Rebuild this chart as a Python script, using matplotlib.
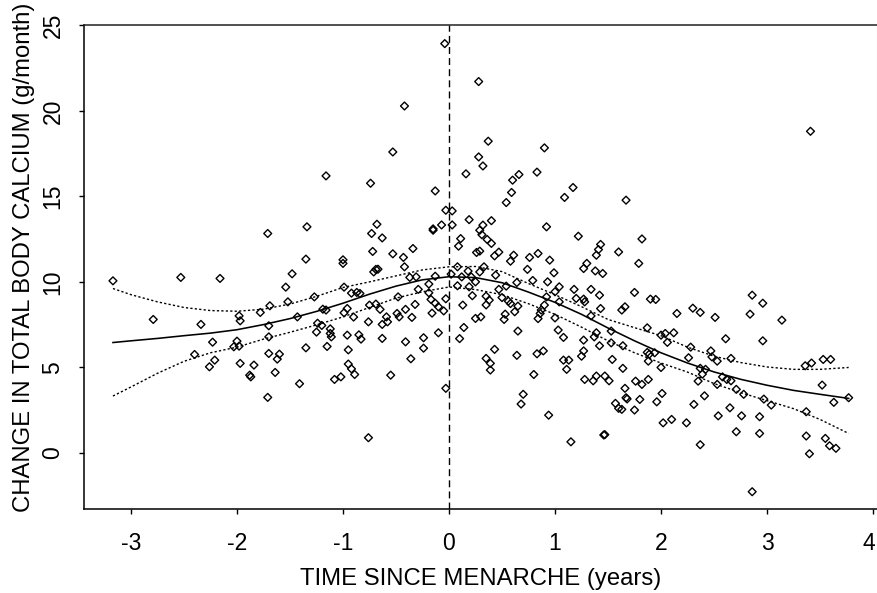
import matplotlib
matplotlib.use("Agg")
import matplotlib.pyplot as plt
from matplotlib.transforms import ScaledTranslation

plt.rcParams['font.family'] = ['Liberation Sans', 'DejaVu Sans']
plt.rcParams['axes.unicode_minus'] = False

# Individual observations: years since menarche vs. calcium accretion (g/month)
time_since_menarche = [
    -3.17, -2.79, -2.53, -2.34, -2.16, -2.23, -2.40, -2.21, -2.26, -1.98,
    -1.97, -1.78, -1.69, -1.70, -1.70, -2.00, -2.03, -1.98, -1.70, -1.60,
    -1.62, -1.97, -1.84, -1.88, -1.87, -1.64, -1.71, -1.71,
    -0.53, -1.16, -0.74, -0.13, -0.03, 0.03, -0.07, 0.03, -0.15, -0.15,
    -1.34, -0.68, -0.73, -0.63, -1.35, -1.00, -1.00, -0.72, -0.53, -0.34,
    -0.43, -0.42, -0.71, -0.69, -0.67, -1.48, -1.54, -1.52, -1.27, -0.99,
    -0.92, -0.87, -0.84, -0.48, -0.37, -0.31, -0.13, -0.19, -0.29, -0.19,
    -0.17, -0.13, -0.10, -0.03, -0.05, -0.16, -1.43, -1.19, -1.16, -0.99,
    -0.96, -0.90, -0.75, -0.69, -0.65, -0.76, -0.59, -0.58, -0.63, -0.49,
    -0.47, -0.41, -0.35, -0.32, -1.24, -1.20, -1.25, -1.12, -1.12, -1.11,
    -0.96, -0.85, -0.83, -0.63, -1.35, -1.15, -0.95, -0.41, -0.24, -0.24,
    -0.10, -0.36, -0.95, -0.92, -0.89, -1.02, -1.08, -0.55, -1.41, -0.03,
    -0.76, -0.04, -0.42,
    0.19, 0.32, 0.40, 0.29, 0.31, 0.92, 1.22, 0.11, 0.09, 0.36,
    0.40, 0.26, 0.29, 0.47, 0.43, 0.61, 0.58, 0.76, 0.84, 0.95,
    1.43, 1.41, 1.39, 1.60, 1.30, 1.27, 1.38, 1.45, 0.74, 0.79,
    0.99, 0.08, 0.18, 0.29, 0.33, 0.44, 0.12, 0.21, 0.25, 0.08,
    0.19, 0.02, 0.64, 0.54, 0.47, 0.93, 1.04, 1.00, 1.18, 1.20,
    1.27, 1.28, 1.34, 1.42, 0.22, 0.35, 0.38, 0.35, 0.13, 0.50,
    0.56, 0.58, 0.65, 0.62, 0.53, 0.52, 0.25, 0.30, 1.04, 0.92,
    0.90, 0.87, 0.86, 0.84, 1.00, 1.43, 1.34, 0.14, 0.10, 0.65,
    1.03, 1.08, 1.27, 1.37, 1.39, 1.42, 1.53, 1.53, 0.43, 0.35,
    0.39, 0.39, 0.64, 0.83, 0.89, 1.08, 1.13, 1.11, 1.25, 1.27,
    1.54, 0.80, 1.28, 1.36, 1.39, 1.47, 1.51, 0.70, 0.68, 0.94,
    1.15, 1.46, 1.47, 1.57, 1.60,
    0.28, 0.37, 0.90, 0.28, 0.32, 0.16, 0.83, 0.66, 0.60, 0.59,
    0.54, 1.09, 1.17,
    3.41, 1.67, 1.82, 1.79, 1.75, 1.90, 1.95, 2.86, 2.96,
    1.63, 1.66, 2.15, 2.30, 2.37, 2.51, 2.84, 3.14, 1.87, 1.64,
    2.00, 2.04, 2.12, 2.06, 2.61, 2.96, 2.28, 1.87, 1.89, 1.88,
    1.94, 2.47, 2.48, 2.53, 2.66, 2.26, 1.64, 2.00, 2.37, 2.42,
    2.39, 3.36, 3.42, 3.53, 3.60, 1.76, 1.82, 1.88, 1.66, 2.35,
    2.53, 2.58, 2.62, 2.66, 2.71, 2.78, 3.52, 1.67, 1.68, 1.80,
    1.96, 2.01, 2.97, 3.04, 3.77, 3.63, 3.37, 1.63, 1.75, 2.02,
    2.10, 2.24, 2.31, 2.41, 2.54, 2.65, 2.76, 2.93, 2.71, 2.93,
    2.37, 2.86, 3.37, 3.40, 3.55, 3.59, 3.65,
]

calcium_change = [
    10.06, 7.80, 10.26, 7.51, 10.20, 6.47, 5.75, 5.42, 5.03, 8.01,
    7.72, 8.21, 8.60, 7.43, 6.78, 6.53, 6.20, 6.24, 5.81, 5.77,
    5.48, 5.23, 5.13, 4.54, 4.44, 4.70, 3.24, 12.83,
    17.60, 16.20, 15.77, 15.32, 14.19, 14.15, 13.33, 13.33, 13.10, 13.02,
    13.22, 13.37, 12.83, 12.57, 11.33, 11.29, 11.08, 11.78, 11.64, 11.95,
    11.43, 10.88, 10.58, 10.73, 10.74, 10.47, 9.69, 8.83, 9.12, 9.69,
    9.34, 9.38, 9.32, 9.12, 10.26, 10.29, 10.33, 9.87, 9.56, 9.36,
    8.97, 8.75, 8.54, 9.01, 8.30, 8.17, 7.95, 8.40, 8.35, 8.19,
    8.44, 7.94, 8.64, 8.70, 8.39, 7.66, 7.95, 7.66, 7.51, 8.15,
    7.95, 8.39, 7.92, 8.68, 7.58, 7.45, 7.06, 7.25, 6.98, 6.78,
    6.88, 6.90, 6.65, 6.69, 6.14, 6.22, 6.02, 6.49, 6.73, 6.12,
    7.02, 5.50, 5.19, 4.91, 4.58, 4.44, 4.29, 4.54, 4.04, 3.77,
    0.88, 23.94, 20.29,
    13.64, 13.32, 13.58, 13.02, 12.76, 13.22, 12.67, 12.53, 12.09, 12.48,
    12.25, 11.72, 11.80, 11.74, 11.52, 11.56, 11.21, 11.43, 11.66, 11.27,
    12.19, 11.89, 11.56, 11.75, 11.08, 10.78, 10.64, 10.49, 10.73, 10.08,
    10.53, 10.88, 10.63, 10.58, 10.88, 10.39, 10.29, 10.29, 10.00, 9.77,
    9.71, 10.45, 9.96, 9.75, 9.56, 10.00, 9.71, 9.42, 9.56, 9.03,
    8.99, 8.83, 9.56, 9.22, 9.19, 9.16, 8.93, 8.65, 8.64, 9.08,
    8.87, 8.73, 8.58, 8.25, 8.11, 7.80, 7.86, 7.95, 8.83, 9.12,
    8.64, 8.35, 8.15, 7.85, 7.89, 8.44, 8.01, 7.33, 6.68, 7.12,
    7.18, 6.75, 6.59, 6.78, 7.02, 6.26, 7.12, 6.43, 6.05, 5.52,
    5.23, 4.84, 5.70, 5.79, 5.96, 5.42, 5.42, 4.88, 5.65, 5.96,
    5.46, 4.58, 4.29, 4.21, 4.49, 4.49, 4.21, 3.42, 2.85, 2.20,
    0.64, 1.04, 1.06, 2.89, 2.60,
    21.72, 18.23, 17.84, 17.31, 16.78, 16.32, 16.42, 16.28, 15.95, 15.23,
    14.64, 14.94, 15.52,
    18.81, 14.78, 12.51, 11.08, 9.38, 8.99, 8.97, 9.22, 8.75,
    8.35, 8.54, 8.15, 8.46, 8.21, 7.92, 8.11, 7.76, 7.31, 6.26,
    6.88, 6.98, 7.02, 6.46, 6.67, 6.55, 6.18, 5.87, 5.77, 5.36,
    5.85, 5.96, 5.61, 5.36, 5.52, 5.56, 4.94, 4.99, 4.94, 4.88,
    4.60, 5.09, 5.25, 5.46, 5.46, 4.19, 4.00, 4.29, 3.77, 4.19,
    4.00, 4.44, 4.29, 4.21, 3.71, 3.42, 3.96, 3.22, 3.15, 3.12,
    2.98, 3.47, 3.14, 2.79, 3.22, 2.95, 2.40, 2.54, 2.50, 1.75,
    1.95, 1.75, 2.83, 3.33, 2.16, 2.63, 2.16, 2.11, 1.23, 1.13,
    0.47, -2.28, 0.98, -0.06, 0.84, 0.41, 0.26,
]

# Fitted curve with its confidence band
fit_time = [-3.17, -3.0, -2.75, -2.5, -2.25, -2.0, -1.75, -1.5, -1.25, -1.0,
            -0.75, -0.5, -0.25, 0.0, 0.25, 0.5, 0.75, 1.0, 1.25, 1.5,
            1.75, 2.0, 2.25, 2.5, 2.75, 3.0, 3.25, 3.5, 3.77]
fit_mean = [6.45, 6.55, 6.69, 6.85, 7.00, 7.20, 7.50, 7.85, 8.27, 8.75,
            9.28, 9.75, 10.12, 10.30, 10.25, 9.95, 9.40, 8.80, 8.10, 7.30,
            6.55, 5.85, 5.25, 4.73, 4.30, 3.95, 3.65, 3.42, 3.18]
fit_upper = [9.61, 9.25, 8.83, 8.50, 8.32, 8.28, 8.40, 8.70, 9.15, 9.67,
             10.00, 10.35, 10.70, 10.88, 10.90, 10.60, 9.90, 9.25, 8.55, 7.80,
             7.32, 6.85, 6.18, 5.65, 5.28, 5.02, 4.88, 4.88, 4.99]
fit_lower = [3.32, 3.85, 4.65, 5.35, 5.85, 6.18, 6.65, 7.05, 7.48, 7.95,
             8.50, 9.05, 9.42, 9.70, 9.55, 9.25, 8.72, 8.10, 7.35, 6.55,
             5.85, 5.25, 4.72, 4.05, 3.52, 3.05, 2.58, 1.95, 1.13]

x_ticks = [-3, -2, -1, 0, 1, 2, 3, 4]
y_ticks = [0, 5, 10, 15, 20, 25]

fig = plt.figure(figsize=(8.77, 5.93), dpi=100)
ax = fig.add_axes([0.0958, 0.1411, 0.9039, 0.8159])

ax.scatter(time_since_menarche, calcium_change, marker='D', s=16,
           facecolors='none', edgecolors='black', linewidths=1.0, zorder=3)

ax.plot(fit_time, fit_mean, color='black', lw=1.15, zorder=2)
ax.plot(fit_time, fit_upper, color='black', lw=1.0, dashes=(1.6, 1.6), zorder=2)
ax.plot(fit_time, fit_lower, color='black', lw=1.0, dashes=(1.6, 1.6), zorder=2)

ax.axvline(0, color='black', lw=1.0, dashes=(5, 3), zorder=1)

ax.set_xlim(-3.443, 4.035)
ax.set_ylim(-3.31, 25.0)
ax.set_xticks(x_ticks)
ax.set_yticks(y_ticks)
ax.set_xticklabels([str(t) for t in x_ticks])
ax.set_yticklabels([str(t) for t in y_ticks], rotation=90, va='center')

ax.tick_params(direction='out', length=3.6, width=1.0, labelsize=16.5,
               color='black')
ax.tick_params(axis='x', pad=12.5)
ax.tick_params(axis='y', pad=10.5)

# keep the last x tick label inside the figure edge
last_label = ax.get_xticklabels()[-1]
last_label.set_transform(last_label.get_transform()
                         + ScaledTranslation(-4 / 100, 0, fig.dpi_scale_trans))

for side in ('left', 'bottom'):
    ax.spines[side].set_linewidth(1.1)
    ax.spines[side].set_color('black')
ax.spines['top'].set_linewidth(1.1)
ax.spines['top'].set_color('#222222')
ax.spines['right'].set_linewidth(0.8)
ax.spines['right'].set_color('#cccccc')

ax.set_xlabel('TIME SINCE MENARCHE (years)', fontsize=17.2)
ax.set_ylabel('CHANGE IN TOTAL BODY CALCIUM (g/month)', fontsize=17.2)
ax.xaxis.set_label_coords(0.5, -0.122)
ax.yaxis.set_label_coords(-0.062, 0.52)

fig.savefig('out.png', dpi=100)
